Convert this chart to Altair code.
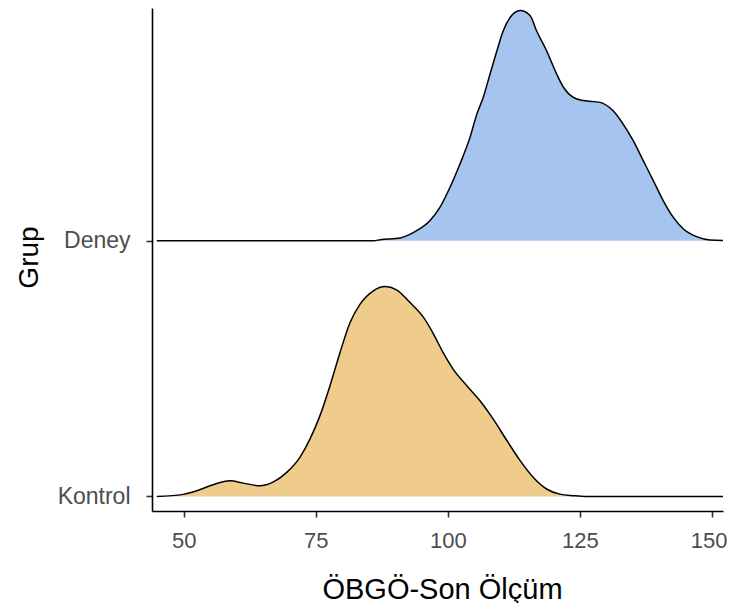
import altair as alt
import pandas as pd

groups = ["Kontrol", "Deney"]
group_base = [1, 2]
fill_colors = ["#F0CC8C", "#A5C5F0"]

kontrol_x = [44.9, 49.9, 52.5, 55.0, 58.8, 61.3, 64.4, 67.0, 69.5, 72.0, 73.9, 75.8, 77.7,
             79.6, 81.5, 83.4, 85.9, 88.1, 90.3, 92.8, 95.4, 97.3, 99.1, 101.0, 103.6,
             106.1, 108.6, 111.2, 113.7, 116.2, 118.7, 121.2, 123.8, 126.0, 153.4]
kontrol_h = [0.0, 0.008, 0.022, 0.042, 0.061, 0.052, 0.042, 0.057, 0.094, 0.153, 0.224,
             0.316, 0.433, 0.563, 0.680, 0.752, 0.804, 0.821, 0.808, 0.759, 0.700, 0.635,
             0.563, 0.498, 0.433, 0.374, 0.302, 0.218, 0.140, 0.074, 0.029, 0.009, 0.003,
             0.0, 0.0]

deney_x = [44.9, 86.0, 87.2, 91.0, 94.1, 96.6, 98.5, 100.4, 102.3, 104.2, 105.5, 106.7,
           108.0, 109.3, 110.5, 111.8, 113.7, 115.6, 116.8, 118.7, 120.6, 121.9, 123.8,
           125.7, 128.8, 131.3, 133.2, 135.1, 137.0, 138.9, 140.8, 142.7, 144.6, 147.1,
           149.6, 153.4]
deney_h = [0.0, 0.0, 0.004, 0.011, 0.039, 0.078, 0.130, 0.208, 0.300, 0.404, 0.495, 0.560,
           0.652, 0.743, 0.821, 0.873, 0.900, 0.880, 0.821, 0.743, 0.652, 0.600, 0.560,
           0.548, 0.541, 0.508, 0.456, 0.391, 0.313, 0.235, 0.156, 0.091, 0.046, 0.016,
           0.003, 0.0]

x_ticks = [50, 75, 100, 125, 150]

rows = []
for g, b, xs, hs in [("Kontrol", 1, kontrol_x, kontrol_h), ("Deney", 2, deney_x, deney_h)]:
    for xv, hv in zip(xs, hs):
        rows.append({"Grup": g, "x": xv, "base": b, "y": b + hv})
df = pd.DataFrame(rows)

FONT = "Liberation Sans"

xenc = alt.X("x:Q", scale=alt.Scale(domain=[44, 152.1], nice=False, zero=False),
             axis=alt.Axis(values=x_ticks, title="ÖBGÖ-Son Ölçüm", grid=False,
                           domainColor="#000000", domainWidth=1.6,
                           tickColor="#333333", tickWidth=1.6, tickSize=6,
                           labelFont=FONT, labelFontSize=22, labelColor="#4D4D4D",
                           labelPadding=13, labelFlush=12, labelFlushOffset=15,
                           titleFont=FONT, titleFontSize=29, titleFontWeight="normal",
                           titleColor="#000000", titleBaseline="alphabetic", titleY=87,
                           titleX=290))
yenc = alt.Y("y:Q", scale=alt.Scale(domain=[0.943, 2.91], nice=False, zero=False),
             axis=alt.Axis(values=group_base, grid=False,
                           labelExpr="datum.value == 1 ? 'Kontrol' : 'Deney'",
                           title="Grup", domainColor="#000000", domainWidth=1.6,
                           tickColor="#333333", tickWidth=1.6, tickSize=6,
                           labelFont=FONT, labelFontSize=23, labelColor="#4D4D4D",
                           labelPadding=16,
                           titleFont=FONT, titleFontSize=28, titleFontWeight="normal",
                           titleColor="#000000", titleAngle=-90,
                           titleBaseline="alphabetic", titleX=-115, titleY=249))

area = alt.Chart(df).mark_area(interpolate="monotone", opacity=1, clip=True).encode(
    x=xenc,
    y=yenc,
    y2="base:Q",
    color=alt.Color("Grup:N", scale=alt.Scale(domain=groups, range=fill_colors), legend=None),
)
line = alt.Chart(df).mark_line(interpolate="monotone", color="#000000", strokeWidth=1.5,
                               clip=True).encode(
    x="x:Q",
    y="y:Q",
    detail="Grup:N",
)

chart = (area + line).properties(
    width=571, height=503,
    autosize=alt.AutoSizeParams(type="none"),
    padding={"left": 144, "top": 0, "right": 4, "bottom": 92},
    background="#FFFFFF",
).configure_view(stroke=None)

chart.save("out.html", embed_options={"renderer": "svg", "actions": False})
